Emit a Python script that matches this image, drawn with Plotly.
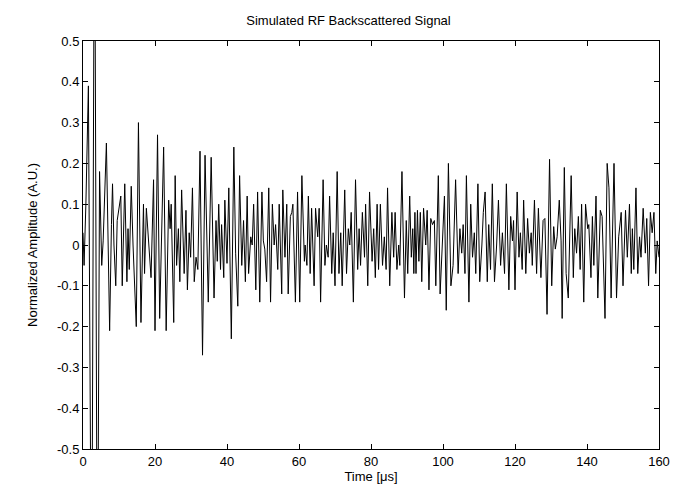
import plotly.graph_objects as go

# Time samples (microseconds) and normalized amplitude, in segments
t_seg1 = [0.0, 0.3, 0.8, 1.5, 2.4, 3.2, 4.0, 4.6, 5.2, 5.6, 6.5, 7.4, 7.9, 8.2, 8.6, 9.1, 9.5, 10.0, 10.5, 10.9, 11.6, 12.2,
          12.5, 12.85, 13.4, 13.9, 14.8, 15.4, 16.1, 16.8, 17.1, 17.6, 18.2, 18.9, 19.6, 20.0, 20.7, 21.3, 22.4, 23.1, 23.8, 24.2, 24.5, 25.2, 25.6,
          26.0, 26.5, 26.9, 27.4, 28.1, 28.6, 29.0, 29.5, 29.9, 30.4, 30.9, 31.4, 31.9, 32.5, 33.2, 33.9, 34.8, 35.6, 36.4, 36.95, 37.3, 37.7, 38.2, 38.5, 39.1, 39.4]
a_seg1 = [0.03, -0.05, 0.10, 0.39, -1.0, 1.0, -1.0, 0.18, -0.05, 0.01, 0.25, -0.21, 0.05, 0.15, 0.0, -0.10, 0.06, 0.09, 0.12, -0.10, 0.15, -0.09,
          0.04, -0.06, 0.144, 0.0, -0.20, 0.30, -0.19, 0.10, -0.07, 0.09, 0.0, -0.08, 0.16, -0.21, 0.27, -0.18, 0.24, -0.21, 0.11, 0.04, 0.10, -0.19, 0.17,
          -0.05, 0.04, -0.09, 0.135, -0.07, 0.085, -0.11, 0.03, -0.03, 0.14, -0.09, -0.03, -0.06, 0.23, -0.27, 0.22, -0.14, 0.215, -0.13, 0.06, -0.04, 0.10, -0.06, 0.05, -0.08, 0.11]

t_seg2 = [40.0, 40.5, 41.2, 41.9, 42.4, 43.0, 43.5, 44.1, 44.6, 45.1, 45.6, 46.0, 46.6, 47.0, 47.4, 48.0, 48.5, 49.1, 49.7, 50.1, 50.5, 51.0, 51.6, 52.1, 52.6,
          53.1, 53.5, 54.1, 54.5, 55.2, 55.5, 56.1, 56.6, 57.0, 57.6, 58.0, 58.3, 59.0, 59.6, 60.2, 60.8, 61.5, 61.7, 62.2, 62.6, 63.1, 63.5, 64.2, 64.6, 65.2, 65.6, 66.0,
          66.7, 67.2, 67.6, 68.1, 68.5, 69.1, 69.5, 70.0, 70.6, 71.1, 71.6, 72.0, 72.7, 73.2, 73.7, 74.1, 74.5, 75.1, 75.7, 76.3, 76.7, 77.1, 77.6, 78.2, 78.5, 79.1]
a_seg2 = [-0.045, 0.14, -0.23, 0.24, -0.02, -0.15, 0.17, -0.05, 0.06, -0.09, 0.12, -0.07, 0.02, 0.0, 0.10, -0.11, 0.13, -0.14, 0.13, 0.01, -0.01, -0.09, 0.14, -0.14, 0.10,
          0.0, 0.05, -0.06, 0.10, -0.12, 0.135, -0.03, 0.10, -0.12, 0.07, 0.08, 0.10, -0.14, 0.13, -0.14, 0.17, -0.04, 0.0, -0.05, 0.12, -0.07, 0.09, -0.10, 0.09, 0.02, 0.09, -0.14,
          0.16, -0.05, 0.0, -0.03, 0.12, -0.07, 0.03, -0.10, 0.18, -0.07, 0.03, -0.10, 0.135, -0.07, 0.04, 0.0, 0.08, -0.14, 0.16, -0.06, 0.04, -0.05, 0.08, -0.03, 0.10, -0.10]

t_seg3 = [79.6, 80.3, 80.75, 81.2, 81.7, 82.1, 82.6, 83.2, 83.7, 84.2, 84.6, 85.2, 85.8, 86.3, 86.7, 87.2, 87.7, 88.0, 88.6, 89.3, 89.8, 90.2, 90.75, 91.2, 91.6, 91.9,
          92.2, 92.5, 92.9, 93.3, 93.7, 94.1, 94.6, 95.2, 95.6, 96.1, 96.6, 97.1, 97.6, 98.0, 98.7, 99.2, 99.8, 100.4, 100.9, 101.5, 102.2, 102.8, 103.5, 104.2, 104.7, 105.2, 105.6, 106.1,
          106.5, 107.2, 107.7, 108.2, 108.7, 109.1, 109.7, 110.2, 110.8, 111.2, 111.7, 112.3, 112.7, 113.2, 113.7, 114.3, 114.9, 115.4, 116.0, 116.5, 117.1, 117.6, 118.3, 118.8, 119.3]
a_seg3 = [0.13, -0.04, 0.04, -0.08, 0.10, -0.06, 0.10, -0.05, 0.02, -0.06, 0.14, -0.10, 0.08, -0.03, 0.08, -0.06, 0.0, -0.05, 0.18, -0.13, 0.06, -0.07, 0.12, -0.03, 0.04, -0.07,
          0.08, -0.07, 0.085, -0.04, 0.08, -0.09, 0.09, 0.0, 0.085, -0.11, 0.065, 0.05, 0.06, -0.10, 0.17, -0.12, 0.02, 0.12, -0.16, 0.20, -0.10, -0.05, 0.16, -0.07, 0.04, -0.02, 0.05, -0.07,
          0.17, -0.14, 0.10, -0.03, 0.03, -0.07, 0.15, -0.09, 0.0, 0.08, 0.13, -0.09, 0.05, -0.06, 0.15, -0.09, 0.0, 0.11, -0.05, 0.03, -0.07, 0.15, -0.11, 0.07, 0.01]

t_seg4 = [119.6, 120.0, 120.6, 121.1, 121.5, 122.0, 122.4, 123.0, 123.5, 124.0, 124.5, 124.8, 125.4, 126.0, 126.5, 127.2, 127.8, 128.3, 128.9, 129.6, 130.2, 130.75, 131.2, 131.7, 132.3, 132.8,
          133.1, 133.7, 134.2, 134.8, 135.6, 136.2, 136.6, 137.1, 137.6, 138.1, 138.5, 139.1, 139.6, 140.2, 140.5, 141.1, 141.5, 141.9, 142.5, 143.0, 143.7, 144.2, 145.0, 145.6,
          146.1, 146.7, 147.5, 148.2, 148.8, 149.5, 150.0, 150.7, 151.2, 151.8, 152.3, 152.6, 153.0, 153.6, 154.1, 154.6, 155.0, 155.6, 156.2, 156.6, 157.1, 157.6, 158.1, 158.6, 159.1, 159.5, 160.0]
a_seg4 = [0.06, -0.11, 0.13, -0.03, 0.03, -0.06, 0.11, -0.07, 0.065, -0.02, 0.03, -0.05, 0.11, -0.07, 0.09, -0.08, 0.06, 0.065, -0.17, 0.21, -0.10, 0.045, -0.01, 0.02, 0.11, 0.01,
          -0.18, 0.19, -0.07, -0.13, 0.17, -0.08, 0.04, -0.02, 0.07, -0.06, 0.10, -0.14, 0.10, 0.04, 0.05, -0.08, 0.07, -0.05, 0.12, -0.13, 0.085, 0.07, -0.18, 0.20,
          0.14, -0.13, 0.20, -0.13, 0.02, 0.08, -0.10, 0.085, -0.03, 0.10, -0.07, 0.04, -0.06, 0.14, -0.07, 0.02, -0.03, 0.09, -0.02, 0.065, -0.10, 0.08, 0.03, 0.08, -0.07, 0.01, -0.03]

x_ticks = [0, 20, 40, 60, 80, 100, 120, 140, 160]
y_ticks = [0.5, 0.4, 0.3, 0.2, 0.1, 0.0, -0.1, -0.2, -0.3, -0.4, -0.5]
y_tick_labels = ["0.5", "0.4", "0.3", "0.2", "0.1", "0", "-0.1", "-0.2", "-0.3", "-0.4", "-0.5"]

time_us = t_seg1 + t_seg2 + t_seg3 + t_seg4
amplitude = a_seg1 + a_seg2 + a_seg3 + a_seg4

fig = go.Figure()
fig.add_trace(go.Scatter(x=time_us, y=amplitude, mode="lines",
                         line=dict(color="#000000", width=1), showlegend=False))

font = dict(family="Liberation Sans, Arial, sans-serif", size=13, color="#000000")
axis_common = dict(showline=True, linecolor="#000000", linewidth=1, mirror="ticks",
                   ticks="inside", ticklen=5, tickcolor="#000000", showgrid=False,
                   zeroline=False, tickfont=font)

fig.update_layout(
    width=681, height=486,
    margin=dict(l=75, r=30, t=33, b=43),
    paper_bgcolor="#ffffff", plot_bgcolor="#ffffff",
    title=dict(text="Simulated RF Backscattered Signal", x=0.5, xanchor="center",
               y=1 - 12 / 486, yanchor="middle", font=font),
    xaxis=dict(range=[0, 160], tickvals=x_ticks, ticktext=[str(v) for v in x_ticks],
               title=dict(text="Time [μs]", font=font, standoff=4), **axis_common),
    yaxis=dict(range=[-0.5, 0.5], tickvals=y_ticks, ticktext=y_tick_labels,
               title=dict(text="Normalized Amplitude (A.U.)", font=font, standoff=16), **axis_common),
)

fig.write_html("out.html")
